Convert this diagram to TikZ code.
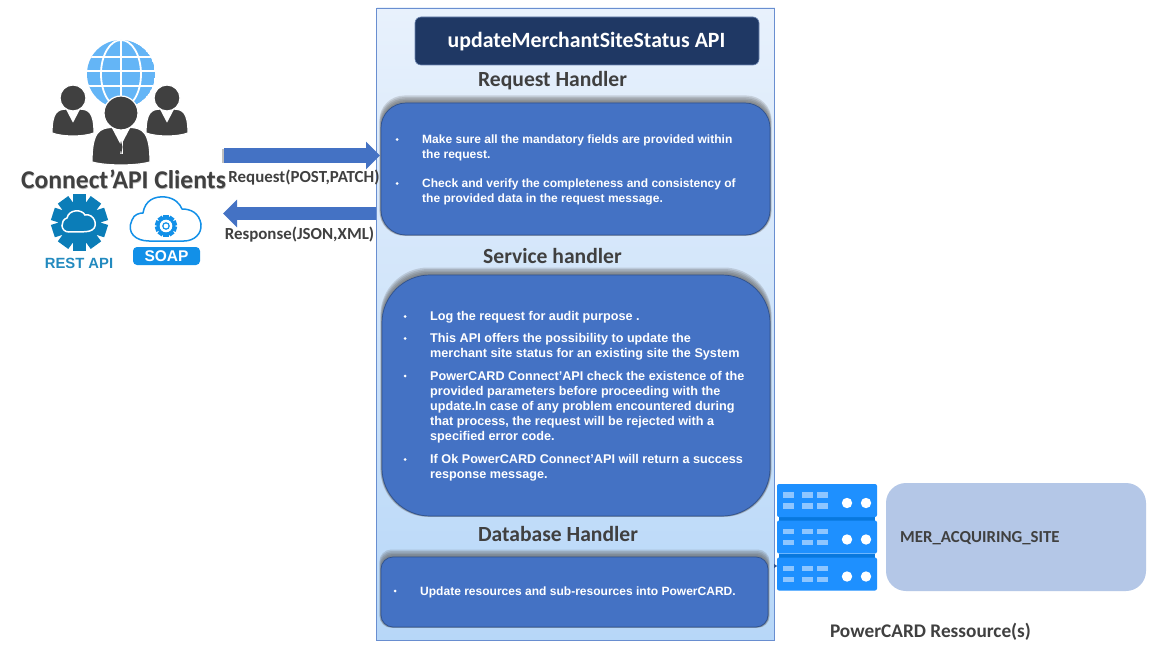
\documentclass[tikz,border=0pt]{standalone}
\usepackage{fontspec}
\setmainfont{Liberation Sans}
\newfontfamily\carl{Carlito}
\usetikzlibrary{arrows.meta,shapes.geometric,calc}
\definecolor{boxblue}{HTML}{4472C4}
\definecolor{boxedge}{HTML}{2F528F}
\definecolor{navy}{HTML}{1F3864}
\definecolor{inkgrey}{HTML}{404040}
\definecolor{globeblue}{HTML}{64B5F6}
\definecolor{restblue}{HTML}{0B7DB8}
\definecolor{soapblue}{HTML}{1290E8}
\definecolor{srv}{HTML}{1E90FF}
\definecolor{srvdark}{HTML}{0878DE}
\definecolor{srvlight}{HTML}{8EC6FF}
\definecolor{resfill}{HTML}{B4C7E7}
\definecolor{panelTop}{HTML}{E8F1FC}
\definecolor{panelBot}{HTML}{B7D7F8}
\newcommand{\softshadow}[5]{%
  \foreach \k in {0,1.5,3,4.5,6,7.5}{%
    \fill[black!65,opacity=.2,rounded corners=#5pt]
      (#1-\k*.22,#2-\k) rectangle (#3+\k*.22,#4+\k*.12);}}
\newcommand{\serverunit}[1]{%
  \fill[srv,rounded corners=2pt] (777,#1) rectangle (877,#1+33);
  \foreach \cx in {783,802,817}{%
    \fill[srvlight] (\cx,#1+8) rectangle (\cx+11,#1+13.5);
    \fill[srvlight] (\cx,#1+19) rectangle (\cx+11,#1+24.5);}
  \fill[white] (847,#1+19) circle (5.2);
  \fill[white] (866,#1+19) circle (5.2);}
\newcommand{\person}[5]{% cx, head y, head r, half width, bottom
  \filldraw[fill=inkgrey,draw=white,line width=1.2pt] (#1-#4,#5) .. controls (#1-#4,#2+#3*1.1) and (#1-#4*.75,#2+#3*.85) .. (#1-#3*.45,#2+#3*.85)
    -- (#1+#3*.45,#2+#3*.85) .. controls (#1+#4*.75,#2+#3*.85) and (#1+#4,#2+#3*1.1) .. (#1+#4,#5)
    .. controls (#1+#4*.5,#5+4) and (#1-#4*.5,#5+4) .. (#1-#4,#5) -- cycle;
  \fill[white] (#1-#3*.55,#2+#3*.85) -- (#1+#3*.55,#2+#3*.85) -- (#1,#2+#3*1.9) -- cycle;
  \filldraw[fill=inkgrey,draw=white,line width=1.2pt] (#1,#2) circle (#3);}
\newcommand{\gear}[5]{% cx cy body-r tooth-r colour
  \fill[#5] (#1,#2) circle (#3);
  \foreach \a in {0,36,...,324}{%
    \fill[#5,rotate around={\a:(#1,#2)}] (#1-#3*.3,#2-#4) rectangle (#1+#3*.3,#2);}}
\tikzset{
  x=1pt,y=-1pt,
  panel/.style={draw=boxblue!80,line width=.8pt,top color=panelTop,bottom color=panelBot,minimum width=398pt,minimum height=632pt,inner sep=0pt},
  handler/.style={draw=boxedge,line width=.7pt,fill=boxblue,inner sep=0pt},
  headline/.style={font=\carl\bfseries\fontsize{21.6}{23}\selectfont,text=inkgrey,inner sep=0pt},
  arrowlabel/.style={font=\carl\bfseries\fontsize{16.9}{18}\selectfont,text=inkgrey,inner sep=0pt},
  body/.style={font=\bfseries\fontsize{12.03}{14.9}\selectfont,text=white,align=left,anchor=north west,inner sep=0pt},
  svcbody/.style={body,font=\bfseries\fontsize{12.65}{15.1}\selectfont},
  dot/.style={fill=white,circle,inner sep=0pt,minimum size=3pt},
  flow/.style={draw=boxblue,-{Triangle[length=14pt,width=27pt]}},
}
\begin{document}
\begin{tikzpicture}
\useasboundingbox[fill=white] (0,0) rectangle (1151,647);

% main panel
\node[panel] (panelbox) at (575.8,324) {};
\node[draw=boxedge!70,line width=.6pt,fill=navy,rounded corners=6pt,minimum width=344pt,minimum height=48pt,inner sep=0pt] (title) at (587,41)
  {};
\node[font=\carl\bfseries\fontsize{21.8}{23}\selectfont,text=white,inner sep=0pt] (titletext) at (586.5,41.5) {updateMerchantSiteStatus API};

% headings
\node[headline] (hreq) at (552.5,80.5) {Request Handler};
\node[headline] (hsvc) at (552.5,256.5) {Service handler};
\node[headline] (hdb) at (558,534) {Database Handler};

% handler boxes
\softshadow{381}{103}{770}{235}{25}
\node[handler,rounded corners=25pt,minimum width=389pt,minimum height=132pt] (reqbox) at (575.5,169) {};
\softshadow{382}{275}{770}{516}{48}
\node[handler,rounded corners=48pt,minimum width=388pt,minimum height=241pt] (svcbox) at (576,395.5) {};
\softshadow{381}{557}{768}{627}{12}
\node[handler,rounded corners=12pt,minimum width=387pt,minimum height=70pt] (dbbox) at (574.5,592) {};

% request text
\node[dot] (r1) at (397,139.5) {};
\node[body] (rt1) at (422,134.5) {Make sure all the mandatory fields are provided within\\the request.};
\node[dot] (r2) at (397,183.5) {};
\node[body] (rt2) at (422,178.5) {Check and verify the completeness and consistency of\\the provided data in the request message.};

% service text
\node[dot] (s1) at (405,316.5) {};
\node[svcbody] (st1) at (430,311.5) {Log the request for audit purpose .};
\node[dot] (s2) at (405,338.5) {};
\node[svcbody] (st2) at (430,333) {This API offers the possibility to update the\\merchant site status for an existing site the System};
\node[dot] (s3) at (405,376) {};
\node[svcbody] (st3) at (430,371) {PowerCARD Connect’API check the existence of the\\provided parameters before proceeding with the\\update.In case of any problem encountered during\\that process, the request will be rejected with a\\specified error code.};
\node[dot] (s4) at (405,459.5) {};
\node[svcbody] (st4) at (430,454) {If Ok PowerCARD Connect’API will return a success\\response message.};

% database text
\node[dot] (d1) at (395,591) {};
\node[body] (dt1) at (420,587) {Update resources and sub-resources into PowerCARD.};

% clients: globe
\begin{scope}
  \clip (121,74) circle (34);
  \fill[globeblue] (121,74) circle (34);
  \foreach \yy in {57,71,86}{\draw[white,line width=1.8pt] (80,\yy) -- (160,\yy);}
  \draw[white,line width=1.8pt] (121,35) -- (121,112);
  \draw[white,line width=1.8pt] (121,74) ellipse (20 and 34);
\end{scope}
% clients: people
\person{73}{98}{13}{21}{133}
\person{167}{98}{13}{21}{133}
\person{121}{113}{17}{29}{162}
\fill[white] (119.5,139) rectangle (122.5,154);
\fill[inkgrey] (121,141) -- (119.5,147) -- (121,155) -- (122.5,147) -- cycle;
\node[font=\carl\bfseries\fontsize{25.6}{27}\selectfont,text=black!45,opacity=.6,inner sep=0pt] (clientshadow) at (124,180) {Connect’API Clients};
\node[font=\carl\bfseries\fontsize{25.6}{27}\selectfont,text=inkgrey,inner sep=0pt] (clients) at (123.5,179.5) {Connect’API Clients};

% REST API icon
\gear{79.5}{222.5}{21.5}{28}{restblue}
\draw[white,line width=1.5pt,fill=restblue]
  (69,232) .. controls (60,232) and (60,220) .. (67,218)
  .. controls (69,209) and (82,209) .. (85,215)
  .. controls (94,213) and (99,226) .. (92,230)
  .. controls (90,232) and (80,232) .. (69,232) -- cycle;
\node[font=\bfseries\fontsize{14.8}{16}\selectfont,text=restblue!90,inner sep=0pt] (rest) at (79,263) {REST API};

% SOAP icon
\draw[soapblue,line width=1.5pt,line join=round]
  (149,241) .. controls (136,241) and (126,233) .. (132,220)
  .. controls (134,214) and (140,213) .. (143,213)
  .. controls (145,200) and (155,196) .. (165,197)
  .. controls (175,198) and (180,204) .. (182,209)
  .. controls (191,209) and (199,213) .. (201,224)
  .. controls (202,234) and (194,241) .. (184,241) -- cycle;
\gear{166}{226}{8.5}{11}{soapblue}
\fill[white] (166,226) circle (6.3);
\draw[soapblue,line width=1.2pt] (166,226) circle (3.2);
\node[fill=soapblue,rounded corners=4pt,minimum width=67pt,minimum height=18pt,inner sep=0pt,font=\bfseries\fontsize{15.5}{16}\selectfont,text=white] (soap) at (166.5,256) {SOAP};

% resources
\foreach \t in {516.5,553.5}{\fill[srvdark] (779,\t) rectangle (875,\t+5);}
\serverunit{484}
\serverunit{520.5}
\serverunit{557.5}
\coordinate (srvin) at (777,566);
\node[fill=resfill,rounded corners=20pt,minimum width=260pt,minimum height=108pt,inner sep=0pt] (resbox) at (1016,537) {};
\node[font=\carl\bfseries\fontsize{16.8}{18}\selectfont,text=inkgrey,inner sep=0pt,anchor=west] (restable) at (900,538.5) {MER\_ACQUIRING\_SITE};
\node[font=\carl\bfseries\fontsize{19.3}{21}\selectfont,text=inkgrey,inner sep=0pt] (reslabel) at (930.5,631.5) {PowerCARD Ressource(s)};
\coordinate (tipstart) at (774,566);
\draw[draw=boxedge,line width=.4pt,-{Triangle[length=3pt,width=4pt]}] (tipstart) -- (srvin);

% flows
\coordinate (clientout) at (224,155.5);
\coordinate (reqin) at (380,155.5);
\coordinate (respout) at (376,213.5);
\coordinate (clientin) at (223,213.5);
\fill[black,opacity=.25] (221.5,149) rectangle (225,163);
\draw[flow,line width=14.5pt] (clientout) -- (reqin);
\draw[flow,line width=13.5pt] (respout) -- (clientin);
\node[arrowlabel] (reqlabel) at (304,177.5) {Request(POST,PATCH)};
\node[arrowlabel] (resplabel) at (299.5,234.5) {Response(JSON,XML)};
\end{tikzpicture}
\end{document}
